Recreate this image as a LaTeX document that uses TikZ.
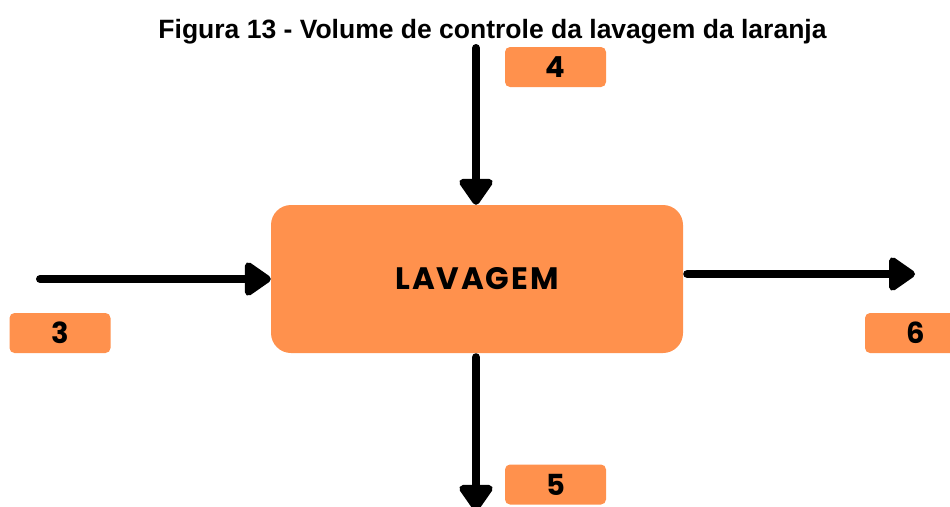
\documentclass[tikz,border=0pt]{standalone}
\usepackage{fontspec}
\setmainfont{Liberation Sans}
\newfontfamily\geofont{Poppins}[LetterSpace=6]
\usetikzlibrary{arrows.meta}
\definecolor{canvaorange}{HTML}{FF914D}
\tikzset{
  flow/.style={line width=8pt, line cap=round, -{Triangle[width=38pt,length=29pt,round]}},
  mainbox/.style={fill=canvaorange, rounded corners=20pt, minimum width=412pt, minimum height=148pt, inner sep=0pt, font=\geofont\bfseries\fontsize{31}{31}\selectfont},
  numbox/.style={fill=canvaorange, rounded corners=5pt, minimum width=101pt, minimum height=40pt, inner sep=0pt, font=\geofont\bfseries\fontsize{29}{29}\selectfont},
  titletext/.style={font=\bfseries\fontsize{26.5}{26.5}\selectfont, anchor=base}
}
\begin{document}
\begin{tikzpicture}[x=1pt,y=-1pt]
\useasboundingbox (0,0) rectangle (950,506);
\clip (0,0) rectangle (950,506);
\node[titletext] (title) at (492.5,38) {Figura 13 - Volume de controle da lavagem da laranja};
\node[mainbox] (lav) at (477,279) {LAVAGEM};
\node[numbox] (n4) at (555.5,67) {4};
\node[numbox] (n3) at (60,333) {3};
\node[numbox] (n5) at (555.5,484.5) {5};
\node[numbox] (n6) at (915.5,333) {6};
\coordinate (a3) at (40,279);
\coordinate (a4) at (476,48);
\coordinate (a5) at (476,511);
\coordinate (a6) at (915,274);
\draw[flow] (a3) -- (a3 -| lav.west);
\draw[flow] (a4) -- (a4 |- lav.north);
\draw[flow, shorten <=4pt] (a5 |- lav.south) -- (a5);
\draw[flow, shorten <=4pt] (lav.east |- a6) -- (a6);
\end{tikzpicture}
\end{document}
